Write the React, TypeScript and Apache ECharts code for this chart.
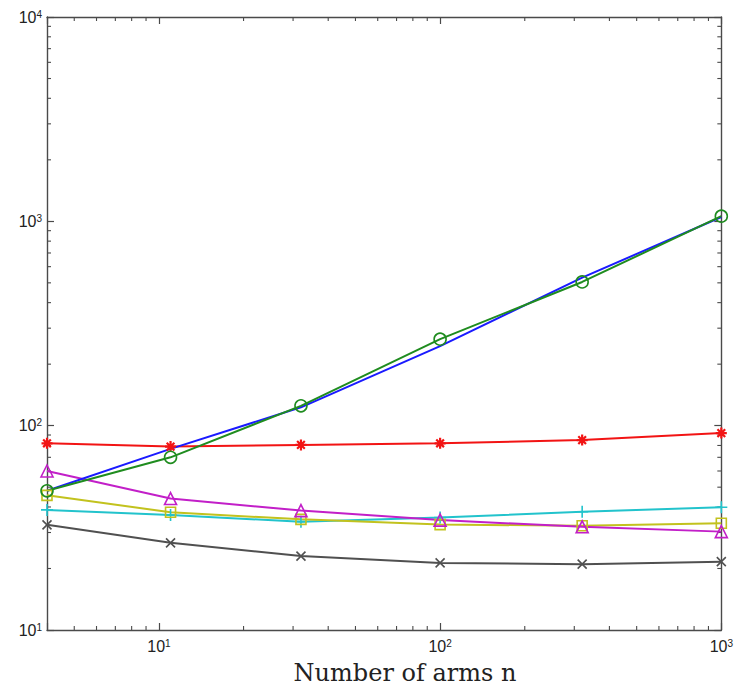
import React, { useEffect, useRef } from "react";
import * as echarts from "echarts";

const xValues = [4, 11, 32, 100, 320, 1000];
const blueValues = [48, 77, 123, 245, 530, 1050];
const greenValues = [48, 70, 125, 265, 505, 1060];
const redValues = [82, 79, 80.5, 82, 85, 92];
const magentaValues = [60, 44, 38.4, 34.5, 32, 30.3];
const yellowValues = [45.6, 37.7, 34.8, 32.8, 32.4, 33.3];
const cyanValues = [38.7, 36.5, 33.9, 35.5, 37.9, 39.9];
const grayValues = [32.7, 26.7, 23.0, 21.3, 21.0, 21.6];

const xMin = 4;
const xMax = 1000;
const yMin = 10;
const yMax = 10000;
const xMinorTicks = [5, 6, 7, 8, 9, 20, 30, 40, 50, 60, 70, 80, 90, 200, 300, 400, 500, 600, 700, 800, 900];
const yMinorTicks = [20, 30, 40, 50, 60, 70, 80, 90, 200, 300, 400, 500, 600, 700, 800, 900, 2000, 3000, 4000, 5000, 6000, 7000, 8000, 9000];
const xAxisTitle = "Number of arms n";

const AXIS_COLOR = "#4a4a4a";

const ASTERISK = "path://M5 0L5 10M0 5L10 5M1.5 1.5L8.5 8.5M1.5 8.5L8.5 1.5";
const PLUS = "path://M5 0L5 10M0 5L10 5";
const CROSS = "path://M0 0L10 10M0 10L10 0";

function powLabel(v: number): string {
  const e = Math.round(Math.log10(v));
  if (Math.abs(Math.pow(10, e) - v) > 1e-6 * v) return "";
  return `{b|10}{s|${e}}`;
}

const richLabel = {
  b: {
    fontSize: 16,
    lineHeight: 16,
    padding: [4, 0, 0, 0],
    verticalAlign: "bottom",
    fontFamily: "Liberation Sans",
    color: "#222",
  },
  s: { fontSize: 10, lineHeight: 10, verticalAlign: "top", fontFamily: "Liberation Sans", color: "#222" },
};

function pairs(vals: number[]) {
  return xValues.map((x, i) => [x, vals[i]]);
}

function lineSeries(name: string, vals: number[], color: string, symbol: string, size: number, bw = 1.6) {
  return {
    name,
    type: "line",
    data: pairs(vals),
    color,
    symbol,
    symbolSize: size,
    showSymbol: symbol !== "none",
    lineStyle: { color, width: 2 },
    itemStyle: { color: "transparent", borderColor: color, borderWidth: bw },
    emphasis: { disabled: true },
    z: 3,
  };
}

export default function App() {
  const ref = useRef<HTMLDivElement>(null);
  useEffect(() => {
    if (!ref.current) return;
    const chart = echarts.init(ref.current, null, { renderer: "svg" });
    const baseX = {
      type: "log",
      logBase: 10,
      min: xMin,
      max: xMax,
      axisLine: { show: true, lineStyle: { color: AXIS_COLOR, width: 1.4 } },
      axisTick: { show: true, inside: true, length: 7, lineStyle: { color: AXIS_COLOR, width: 1.2 } },
      splitLine: { show: false },
      minorTick: { show: false },
      minorSplitLine: { show: false },
    };
    const baseY = {
      type: "log",
      logBase: 10,
      min: yMin,
      max: yMax,
      axisLine: { show: true, lineStyle: { color: AXIS_COLOR, width: 1.4 } },
      axisTick: { show: true, inside: true, length: 7, lineStyle: { color: AXIS_COLOR, width: 1.2 } },
      splitLine: { show: false },
      minorTick: { show: false },
      minorSplitLine: { show: false },
    };
    const option: any = {
      animation: false,
      backgroundColor: "#ffffff",
      grid: { left: 47, right: 8, top: 17, bottom: 67, containLabel: false },
      xAxis: [
        {
          ...baseX,
          position: "bottom",
          axisLabel: {
            show: true,
            margin: 8,
            formatter: powLabel,
            rich: richLabel,
            showMinLabel: true,
            showMaxLabel: true,
          },
        },
        { ...baseX, position: "top", axisLabel: { show: false } },
      ],
      yAxis: [
        {
          ...baseY,
          position: "left",
          axisLabel: { show: true, margin: 5, formatter: powLabel, rich: richLabel },
        },
        { ...baseY, position: "right", axisLabel: { show: false } },
      ],
      graphic: [
        {
          type: "text",
          x: 405,
          y: 673,
          style: {
            text: xAxisTitle,
            fontFamily: "DejaVu Serif",
            fontSize: 24,
            fill: "#222",
            textAlign: "center",
            textVerticalAlign: "middle",
          },
        },
      ],
      series: [
        {
          type: "custom",
          data: xMinorTicks.map((v) => [v, yMin]),
          encode: { x: 0, y: 1 },
          silent: true,
          clip: false,
          z: 1,
          renderItem: (params: any, api: any) => {
            const v = api.value(0);
            const pb = api.coord([v, yMin]);
            const pt = api.coord([v, yMax]);
            const st = { stroke: AXIS_COLOR, lineWidth: 1.1 };
            return {
              type: "group",
              children: [
                { type: "line", shape: { x1: pb[0], y1: pb[1], x2: pb[0], y2: pb[1] - 4 }, style: st },
                { type: "line", shape: { x1: pt[0], y1: pt[1], x2: pt[0], y2: pt[1] + 4 }, style: st },
              ],
            };
          },
        },
        {
          type: "custom",
          data: yMinorTicks.map((v) => [xMin, v]),
          encode: { x: 0, y: 1 },
          silent: true,
          clip: false,
          z: 1,
          renderItem: (params: any, api: any) => {
            const v = api.value(1);
            const pl = api.coord([xMin, v]);
            const pr = api.coord([xMax, v]);
            const st = { stroke: AXIS_COLOR, lineWidth: 1.1 };
            return {
              type: "group",
              children: [
                { type: "line", shape: { x1: pl[0], y1: pl[1], x2: pl[0] + 4, y2: pl[1] }, style: st },
                { type: "line", shape: { x1: pr[0], y1: pr[1], x2: pr[0] - 4, y2: pr[1] }, style: st },
              ],
            };
          },
        },
        lineSeries("gray", grayValues, "#505050", CROSS, 9),
        lineSeries("cyan", cyanValues, "#22c3cc", PLUS, 12),
        lineSeries("yellow", yellowValues, "#c2c21e", "rect", 10),
        lineSeries("magenta", magentaValues, "#c21fc8", "triangle", 12),
        lineSeries("red", redValues, "#f21414", ASTERISK, 11, 2.2),
        lineSeries("blue", blueValues, "#1a1aff", "none", 4),
        lineSeries("green", greenValues, "#1f8c1f", "circle", 12),
      ],
    };
    chart.setOption(option);
    return () => chart.dispose();
  }, []);
  return (
    <div
      ref={ref}
      style={{ position: "fixed", left: 0, top: 0, width: 736, height: 697, background: "#fff" }}
    />
  );
}
